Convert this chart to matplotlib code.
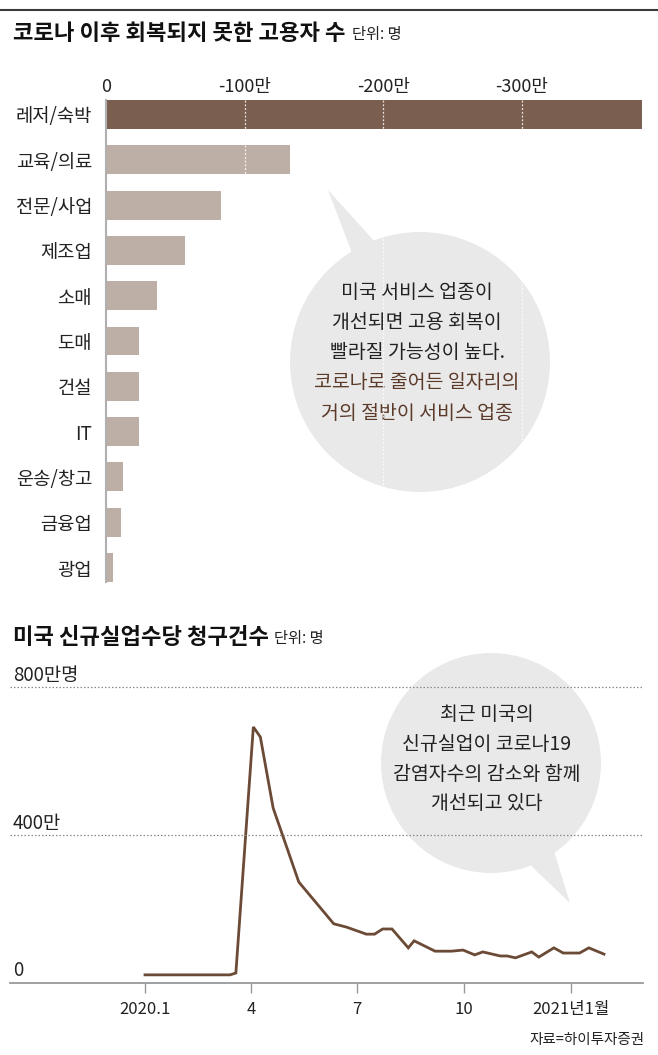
import numpy as np
import pandas as pd
import matplotlib
matplotlib.use('Agg')
import matplotlib.pyplot as plt
import matplotlib.dates as mdates
from matplotlib.patches import Circle, Polygon

plt.rcParams['font.family'] = ['Noto Sans CJK KR', 'DejaVu Sans']

W, H = 658, 1055

# 코로나 이후 회복되지 못한 고용자 수 (단위: 만명)
industries = ['레저/숙박', '교육/의료', '전문/사업', '제조업', '소매', '도매',
              '건설', 'IT', '운송/창고', '금융업', '광업']
job_loss = [-387, -133, -83, -57, -37, -24, -24, -24, -12, -11, -5]
top_ticks = [0, -100, -200, -300]
top_tick_labels = ['0', '-100만', '-200만', '-300만']

# 미국 신규실업수당 청구건수 (단위: 만명)
claim_dates = ['2020-01-01', '2020-03-14', '2020-03-19', '2020-04-03', '2020-04-09',
               '2020-04-20', '2020-05-12', '2020-06-11', '2020-06-22', '2020-07-09',
               '2020-07-16', '2020-07-23', '2020-07-31', '2020-08-14', '2020-08-19',
               '2020-09-06', '2020-09-20', '2020-09-30', '2020-10-10', '2020-10-17',
               '2020-11-01', '2020-11-07', '2020-11-14', '2020-11-28', '2020-12-04',
               '2020-12-17', '2020-12-25', '2021-01-08', '2021-01-16', '2021-01-29']
claims = [22, 22, 27, 692, 665, 473, 273, 160, 151, 132,
          132, 146, 146, 95, 114, 86, 86, 89, 76, 84,
          73, 73, 68, 84, 70, 95, 81, 81, 95, 78]
month_ticks = ['2020-01-01', '2020-04-01', '2020-07-01', '2020-10-01', '2021-01-01']
month_labels = ['2020.1', '4', '7', '10', '2021년1월']

DARK = '#7a5e50'
LIGHT = '#bdaea6'
LINE = '#6b4a36'
BUBBLE = '#e9e9e9'


def box(x0, y0, x1, y1):
    # pixel box (top-left origin) -> figure fraction
    return [x0 / W, 1 - y1 / H, (x1 - x0) / W, (y1 - y0) / H]


fig = plt.figure(figsize=(W / 100, H / 100), dpi=100)
fig.patch.set_facecolor('white')

# background layer in pixel coordinates (titles, bubbles)
bg = fig.add_axes([0, 0, 1, 1])
bg.set_xlim(0, W)
bg.set_ylim(H, 0)
bg.axis('off')

bg.plot([0, W], [10, 10], color='#3a3a3a', lw=1.5)
bg.text(13, 33, '코로나 이후 회복되지 못한 고용자 수', fontsize=16, fontweight='bold',
        va='center', ha='left', color='#111')
bg.text(352, 34, '단위: 명', fontsize=11, va='center', ha='left', color='#222')
bg.text(13, 637, '미국 신규실업수당 청구건수', fontsize=16, fontweight='bold',
        va='center', ha='left', color='#111')
bg.text(274, 638, '단위: 명', fontsize=11, va='center', ha='left', color='#222')

# speech bubble 1
bg.add_patch(Circle((420, 362), 130, fc=BUBBLE, ec='none'))
bg.add_patch(Polygon([(328, 190), (352, 253), (420, 362), (375, 242)], fc=BUBBLE, ec='none'))
b1_lines = ['미국 서비스 업종이', '개선되면 고용 회복이', '빨라질 가능성이 높다.',
            '코로나로 줄어든 일자리의', '거의 절반이 서비스 업종']
b1_colors = ['#222', '#222', '#222', '#5b3a29', '#5b3a29']
for i, (t, c) in enumerate(zip(b1_lines, b1_colors)):
    bg.text(417, 292 + i * 30.3, t, fontsize=14, ha='center', va='center', color=c)

# speech bubble 2
bg.add_patch(Circle((491, 763), 110, fc=BUBBLE, ec='none'))
bg.add_patch(Polygon([(570, 903), (525, 860), (491, 763), (553, 848)], fc=BUBBLE, ec='none'))
b2_lines = ['최근 미국의', '신규실업이 코로나19', '감염자수의 감소와 함께', '개선되고 있다']
for i, t in enumerate(b2_lines):
    bg.text(487, 715 + i * 29.5, t, fontsize=14, ha='center', va='center', color='#222')

# y labels for line chart
bg.text(13, 675, '800만명', fontsize=13.5, va='center', ha='left', color='#222')
bg.text(13, 824, '400만', fontsize=13.5, va='center', ha='left', color='#222')
bg.text(13, 970, '0', fontsize=13.5, va='center', ha='left', color='#222')
bg.text(645, 1040, '자료=하이투자증권', fontsize=10.5, va='center', ha='right', color='#222')

# ---- bar chart ----
ax1 = fig.add_axes(box(106, 100, 643, 582))
ax1.patch.set_alpha(0)
ypos = np.arange(len(industries))
colors = [DARK] + [LIGHT] * (len(industries) - 1)
ax1.barh(ypos, job_loss, height=0.64, color=colors, zorder=2)
ax1.set_xlim(0, -387.5)
ax1.set_ylim(10.32, -0.32)
for x in top_ticks[1:]:
    ax1.axvline(x, color='white', lw=0.9, ls=(0, (1.5, 1.5)), alpha=0.85, zorder=3)
ax1.xaxis.tick_top()
ax1.set_xticks(top_ticks)
ax1.set_xticklabels(top_tick_labels, fontsize=13, color='#222')
ax1.set_yticks(ypos)
ax1.set_yticklabels(industries, fontsize=13.5, color='#222')
ax1.tick_params(axis='x', length=0, pad=3)
ax1.tick_params(axis='y', length=0, pad=10)
for s in ['top', 'right', 'bottom']:
    ax1.spines[s].set_visible(False)
ax1.spines['left'].set_color('#b0b0b0')
ax1.spines['left'].set_linewidth(1.5)

# ---- line chart ----
ax2 = fig.add_axes(box(10, 687, 643, 983))
ax2.patch.set_alpha(0)
d = pd.to_datetime(claim_dates)
ax2.plot(d, claims, color=LINE, lw=2, solid_joinstyle='miter', zorder=3)
origin = mdates.date2num(pd.Timestamp('2020-01-01'))
px_per_day = 1.165
ax2.set_xlim(origin + (10 - 145) / px_per_day, origin + (643 - 145) / px_per_day)
ax2.set_ylim(0, 800)
for yv in [400, 800]:
    ax2.axhline(yv, color='#8a8a8a', lw=0.9, ls=(0, (1.2, 1.6)), zorder=4, clip_on=False)
ax2.set_xticks(pd.to_datetime(month_ticks))
ax2.set_xticklabels(month_labels, fontsize=12, color='#222')
ax2.set_yticks([])
ax2.tick_params(axis='x', direction='out', length=7, width=1, color='#999', pad=6)
for s in ['top', 'right', 'left']:
    ax2.spines[s].set_visible(False)
ax2.spines['bottom'].set_color('#999')
ax2.spines['bottom'].set_linewidth(1.3)

fig.savefig('out.png', dpi=100)
